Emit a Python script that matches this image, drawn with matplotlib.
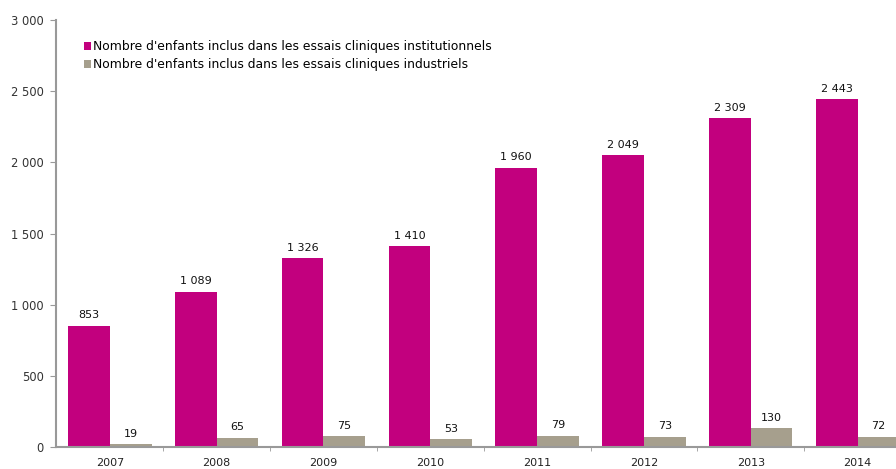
import numpy as np
import matplotlib.pyplot as plt
from matplotlib.ticker import FuncFormatter

annees = ['2007', '2008', '2009', '2010', '2011', '2012', '2013', '2014']
institutionnels = [853, 1089, 1326, 1410, 1960, 2049, 2309, 2443]
industriels = [19, 65, 75, 53, 79, 73, 130, 72]

rose = '#C2007E'
gris = '#A69F8D'

def fmt(v):
    return '{:,}'.format(int(v)).replace(',', ' ')

fig = plt.figure(figsize=(8.96, 4.69), dpi=100)
ax = fig.add_axes([0.063, 0.047, 0.937, 0.91])

x = np.arange(len(annees))
w = 0.39
b1 = ax.bar(x - w / 2, institutionnels, w, color=rose,
            label="Nombre d'enfants inclus dans les essais cliniques institutionnels")
b2 = ax.bar(x + w / 2, industriels, w, color=gris,
            label="Nombre d'enfants inclus dans les essais cliniques industriels")

for rects, vals in [(b1, institutionnels), (b2, industriels)]:
    for r, v in zip(rects, vals):
        ax.text(r.get_x() + r.get_width() / 2, v + 40, fmt(v),
                ha='center', va='bottom', fontsize=8, color='#111111')

ax.set_xlim(-0.5, 7.36)
ax.set_ylim(0, 3000)
ax.set_yticks(range(0, 3001, 500))
ax.yaxis.set_major_formatter(FuncFormatter(lambda v, p: fmt(v)))
ax.set_xticks(x)
ax.set_xticklabels(annees)
ax.set_xticks(np.arange(0.5, 7.5, 1), minor=True)
ax.tick_params(axis='x', which='major', length=0, labelsize=8, colors='#222222', pad=8)
ax.tick_params(axis='x', which='minor', length=3, color='#999999')
ax.tick_params(axis='y', length=4, color='#999999', labelsize=8.3, labelcolor='#333333', pad=5)

for s in ['top', 'right']:
    ax.spines[s].set_visible(False)
ax.spines['left'].set_color('#999999')
ax.spines['bottom'].set_color('#999999')
ax.spines['left'].set_linewidth(1.5)
ax.spines['bottom'].set_linewidth(1.5)

ax.legend(loc='upper left', bbox_to_anchor=(0.027, 0.965), frameon=False,
          fontsize=8.9, handlelength=0.6, handleheight=0.6, handletextpad=0.15,
          labelspacing=0.4, borderaxespad=0)

fig.savefig('out.png', dpi=100)
